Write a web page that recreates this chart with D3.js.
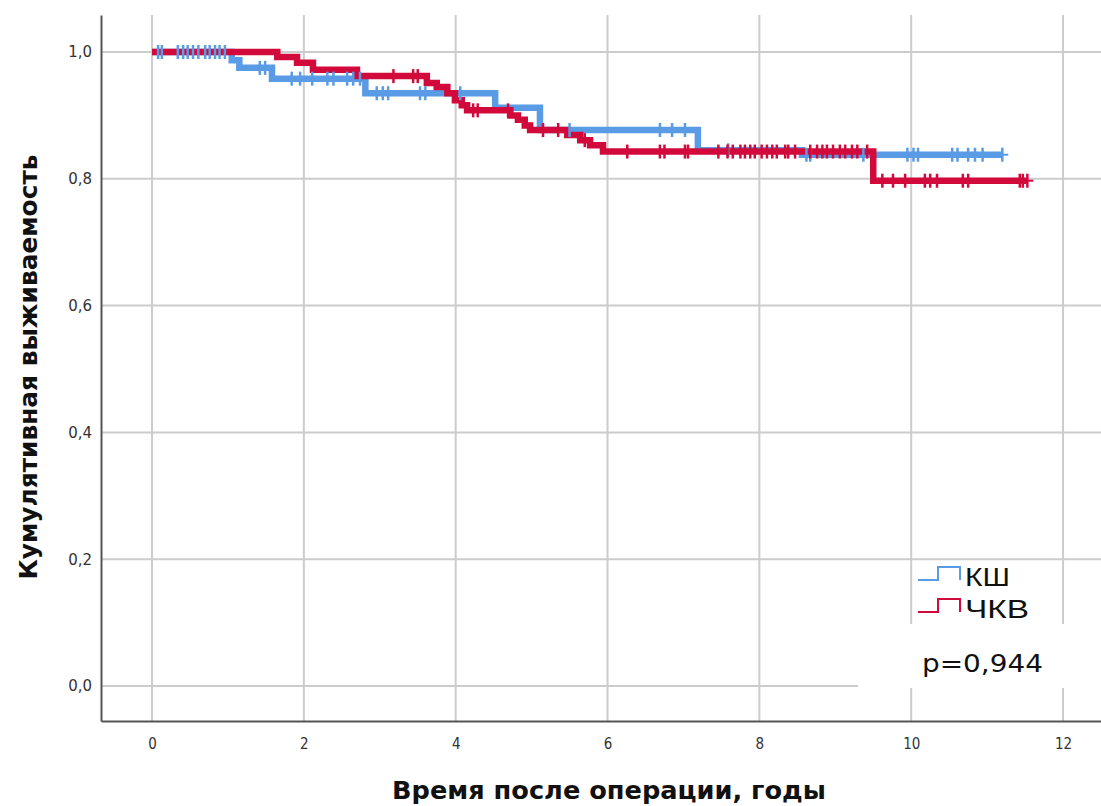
<!DOCTYPE html>
<html><head><meta charset="utf-8">
<script src="https://cdn.jsdelivr.net/npm/d3@7"></script>
<style>html,body{margin:0;padding:0;background:#fff;}svg{display:block;}</style>
</head><body>
<svg id="chart" width="1101" height="806"></svg>
<script>
const groups = ["КШ", "ЧКВ"];
const colors = ["#5a9be6", "#d20a3c"];
const xTicks = [0, 2, 4, 6, 8, 10, 12];
const yTicks = [0, 0.2, 0.4, 0.6, 0.8, 1.0];
const yTickLabels = ["0,0", "0,2", "0,4", "0,6", "0,8", "1,0"];
const pValueLabel = "p=0,944";

// КШ (CABG) step curve
const kshTimes = [0, 1.05, 1.15, 1.58, 2.81, 4.52, 5.11, 7.19, 8.56];
const kshSurv  = [1.0, 0.987, 0.975, 0.958, 0.935, 0.912, 0.877, 0.845, 0.838];
const kshEnd = 11.2;
const kshCensor = [0.08,0.13,0.34,0.41,0.47,0.54,0.61,0.70,0.76,0.83,0.89,0.96,
  1.42,1.49, 1.84,1.95,2.11,2.31,2.39,2.57,2.65,2.74,
  2.96,3.04,3.11,3.53,3.6, 4.06, 5.5,6.69,6.85,7.02, 7.59,
  8.62,8.67,9.37,9.95,10.03,10.09,10.54,10.61,10.75,10.84,10.94,11.2];

// ЧКВ (PCI) step curve
const pciTimes = [0, 1.65, 1.91, 2.12, 2.7, 3.62, 3.75, 3.89, 3.99, 4.08, 4.15, 4.72, 4.82, 4.91, 4.98, 5.47, 5.64, 5.77, 5.94, 9.5];
const pciSurv  = [1.0, 0.992, 0.983, 0.972, 0.962, 0.951, 0.945, 0.935, 0.924, 0.916, 0.908, 0.9, 0.893, 0.884, 0.877, 0.869, 0.861, 0.853, 0.843, 0.797];
const pciEnd = 11.53;
const pciCensor = [3.18,3.44,3.5, 4.23,4.29,4.69, 5.15,5.35, 5.7,
  6.26,6.69,6.75,7.02,7.06,7.46,7.58,7.65,7.75,7.81,7.88,7.94,8.03,8.1,8.17,8.23,8.34,8.38,8.47,8.67,8.76,8.83,8.89,8.97,9.06,9.13,9.22,9.29,9.42,
  9.62,9.76,9.92,10.18,10.25,10.34,10.68,10.75,11.43,11.47,11.53];

const svg = d3.select("#chart");
const pL = 101, pR = 1101, pT = 15, pB = 721;
const x = d3.scaleLinear().domain([-0.672, 12.5]).range([pL, pR]);
const y = d3.scaleLinear().domain([-0.0552, 1.0584]).range([pB, pT]);

const grid = svg.append("g");
grid.selectAll("line.h").data(yTicks).join("line").attr("class", "h")
  .attr("x1", pL).attr("x2", pR)
  .attr("y1", d => y(d)).attr("y2", d => y(d))
  .attr("stroke", "#cccccc").attr("stroke-width", 2);
grid.selectAll("line.v").data(xTicks).join("line").attr("class", "v")
  .attr("x1", d => x(d)).attr("x2", d => x(d))
  .attr("y1", pT).attr("y2", pB)
  .attr("stroke", "#cccccc").attr("stroke-width", 2);

// white box behind p-value
svg.append("rect").attr("x", 858).attr("y", 624).attr("width", 243).attr("height", 64).attr("fill", "#fff");

// axes
const xAxis = d3.axisBottom(x).tickValues(xTicks).tickSize(0).tickPadding(17).tickFormat(d3.format("d"));
const gx = svg.append("g").attr("transform", `translate(0,${pB})`).call(xAxis);
gx.select(".domain").attr("stroke", "#555").attr("stroke-width", 2);
gx.selectAll("text").attr("font-family", "DejaVu Sans Condensed, DejaVu Sans, sans-serif").attr("font-size", 15).attr("fill", "#333");

const yAxis = d3.axisLeft(y).tickValues(yTicks).tickSize(0).tickPadding(9).tickFormat((d,i) => yTickLabels[i]);
const gy = svg.append("g").attr("transform", `translate(${pL},0)`).call(yAxis);
gy.select(".domain").attr("stroke", "#555").attr("stroke-width", 2);
gy.selectAll("text").attr("font-family", "DejaVu Sans, sans-serif").attr("font-size", 15).attr("fill", "#333");

// step curves
function stepPoints(times, surv, end) {
  const pts = times.map((t, i) => [t, surv[i]]);
  pts.push([end, surv[surv.length - 1]]);
  return pts;
}
function survAt(times, surv, t) {
  let s = surv[0];
  for (let i = 0; i < times.length; i++) if (times[i] <= t) s = surv[i];
  return s;
}
const line = d3.line().x(d => x(d[0])).y(d => y(d[1])).curve(d3.curveStepAfter);
const series = [
  {name: groups[0], times: kshTimes, surv: kshSurv, end: kshEnd, cens: kshCensor, color: colors[0], w: 45},
  {name: groups[1], times: pciTimes, surv: pciSurv, end: pciEnd, cens: pciCensor, color: colors[1], w: 64}
];
series.forEach(s => {
  svg.append("path").datum(stepPoints(s.times, s.surv, s.end))
    .attr("d", line).attr("fill", "none").attr("stroke", s.color).attr("stroke-width", 6.5)
    .attr("stroke-linejoin", "miter");
});
series.forEach(s => {
  const g = svg.append("g");
  g.selectAll("line.c").data(s.cens).join("line").attr("class", "c")
    .attr("x1", d => x(d)).attr("x2", d => x(d))
    .attr("y1", d => y(survAt(s.times, s.surv, d)) - 7)
    .attr("y2", d => y(survAt(s.times, s.surv, d)) + 7)
    .attr("stroke", s.color).attr("stroke-width", 2.5);
  g.selectAll("line.e").data([s.end]).join("line").attr("class", "e")
    .attr("x1", d => x(d)).attr("x2", d => x(d) + 6)
    .attr("y1", y(s.surv[s.surv.length-1])).attr("y2", y(s.surv[s.surv.length-1]))
    .attr("stroke", s.color).attr("stroke-width", 2);
});

// legend
const lg = svg.append("g");
series.forEach((s, i) => {
  const yb = 580 + i * 32, yt = 567 + i * 32;
  lg.append("path").attr("d", `M918,${yb}H938V${yt}H960V${yb}`)
    .attr("fill", "none").attr("stroke", s.color).attr("stroke-width", 2);
  lg.append("text").attr("x", 965).attr("y", 586 + i * 32).text(s.name)
    .attr("font-family", "Liberation Sans, Arial, sans-serif").attr("font-size", 25)
    .attr("textLength", s.w).attr("lengthAdjust", "spacingAndGlyphs").attr("fill", "#111");
});
svg.append("text").attr("x", 922).attr("y", 672).text(pValueLabel)
  .attr("font-family", "DejaVu Sans, sans-serif").attr("font-size", 25)
  .attr("textLength", 121).attr("lengthAdjust", "spacingAndGlyphs").attr("fill", "#111");

// axis titles
svg.append("text").attr("x", 609).attr("y", 799).attr("text-anchor", "middle")
  .attr("font-family", "DejaVu Sans Condensed, DejaVu Sans, sans-serif").attr("font-weight", "bold").attr("font-size", 25)
  .attr("textLength", 434).attr("lengthAdjust", "spacingAndGlyphs")
  .attr("fill", "#111").text("Время после операции, годы");
svg.append("text").attr("transform", "translate(37,367) rotate(-90)").attr("text-anchor", "middle")
  .attr("font-family", "DejaVu Sans Condensed, DejaVu Sans, sans-serif").attr("font-weight", "bold").attr("font-size", 25)
  .attr("textLength", 425).attr("lengthAdjust", "spacingAndGlyphs")
  .attr("fill", "#111").text("Кумулятивная выживаемость");
</script>
</body></html>
